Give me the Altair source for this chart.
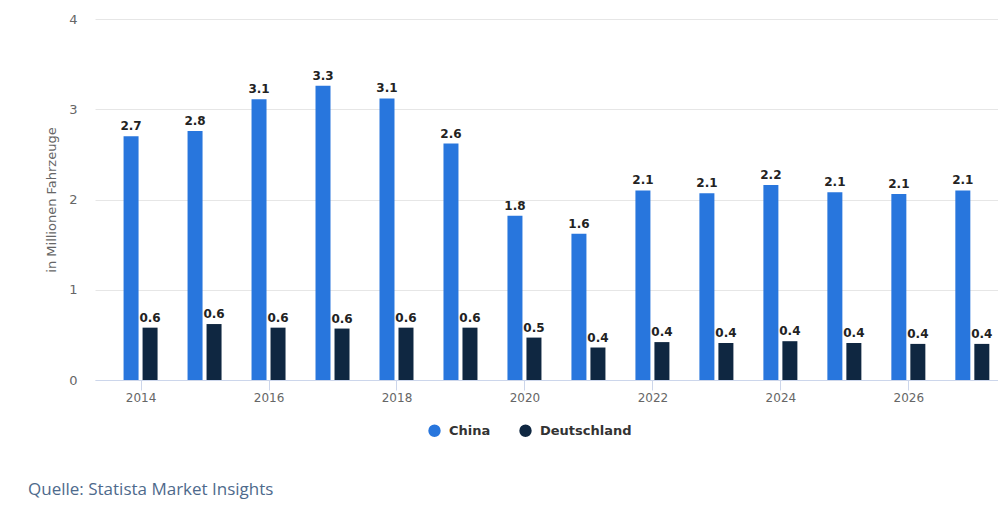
import altair as alt
import pandas as pd

# ---- data ----
years = list(range(2014, 2028))
china = [2.70, 2.76, 3.11, 3.26, 3.12, 2.62, 1.82, 1.62, 2.10, 2.07, 2.16, 2.08, 2.06, 2.10]
germany = [0.58, 0.62, 0.58, 0.57, 0.58, 0.58, 0.47, 0.36, 0.42, 0.41, 0.43, 0.41, 0.40, 0.40]
series = ["China", "Deutschland"]
colors = ["#2876DD", "#0F2741"]
x_ticks = [2014, 2016, 2018, 2020, 2022, 2024, 2026]
y_ticks = [0, 1, 2, 3, 4]
y_title = "in Millionen Fahrzeuge"
source = "Quelle: Statista Market Insights"

df_cn = pd.DataFrame({"Jahr": years, "Wert": china, "Land": series[0]})
df_de = pd.DataFrame({"Jahr": years, "Wert": germany, "Land": series[1]})

FONT = "DejaVu Sans"

xscale = alt.Scale(domain=[2013.366, 2027.323], nice=False, zero=False)
yscale = alt.Scale(domain=[0, 4], nice=False)

x_axis = alt.Axis(values=x_ticks, format="d", grid=False, domainColor="#ccd6eb",
                  tickColor="#ccd6eb", tickSize=10, labelColor="#666666",
                  labelFont=FONT, labelFontSize=12, labelPadding=2, title=None,
                  labelFlush=False)
y_axis = alt.Axis(values=y_ticks, grid=True, gridColor="#e6e6e6", domain=False,
                  ticks=False, labelColor="#666666", labelFont=FONT, labelFontSize=13,
                  labelPadding=18, title=y_title, titleFont=FONT, titleFontSize=13,
                  titleColor="#666666", titleFontWeight="normal", titlePadding=10)

color = alt.Color("Land:N", scale=alt.Scale(domain=series, range=colors),
                  legend=alt.Legend(orient="none", legendX=333, legendY=405,
                                    direction="horizontal", title=None,
                                    symbolType="circle", symbolSize=154,
                                    symbolStrokeWidth=0, symbolOpacity=1,
                                    labelFont=FONT, labelFontWeight="bold",
                                    labelFontSize=13, labelColor="#333333",
                                    labelOffset=8, columnPadding=28))


def group(df, off):
    base = alt.Chart(df).encode(
        x=alt.X("Jahr:Q", scale=xscale, axis=x_axis),
        y=alt.Y("Wert:Q", scale=yscale, axis=y_axis),
    )
    bars = base.mark_bar(width=15, xOffset=off).encode(color=color)
    text = base.mark_text(xOffset=off, dy=-6, baseline="alphabetic", font=FONT,
                          fontWeight="bold", fontSize=12, color="#222222").encode(
        text=alt.Text("Wert:Q", format=".1f"))
    return [bars, text]


src = alt.Chart(pd.DataFrame({"t": [source]})).mark_text(
    align="left", baseline="middle", font="Open Sans", fontSize=17, color="#4e6a8c"
).encode(text="t:N", x=alt.value(-67), y=alt.value(471))

chart = alt.layer(*group(df_cn, -9.5), *group(df_de, 9.5), src).properties(
    width=903, height=361,
    padding={"left": 87, "top": 11, "right": 0, "bottom": 126},
    autosize=alt.AutoSizeParams(type="none"),
    background="white",
).configure_view(stroke=None)

chart.save("out.html", embed_options={"renderer": "svg", "actions": False})
